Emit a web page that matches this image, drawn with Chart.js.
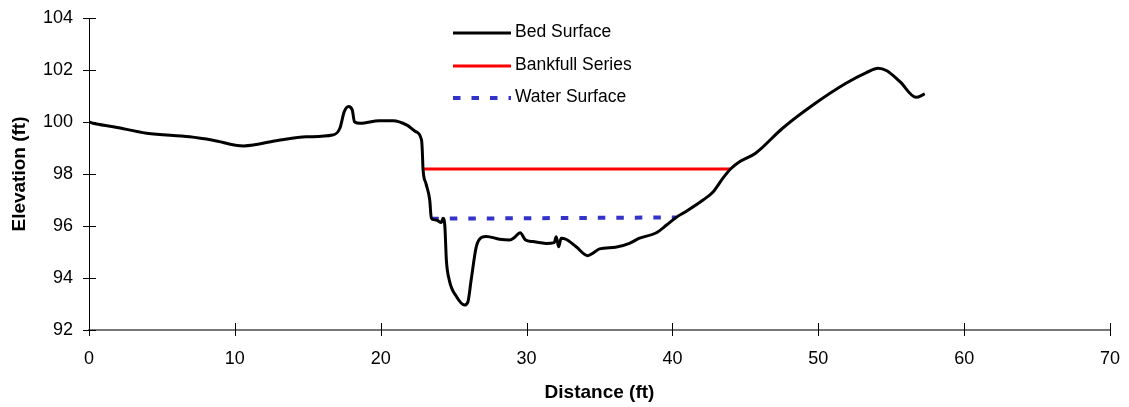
<!DOCTYPE html>
<html>
<head>
<meta charset="utf-8">
<script src="https://cdn.jsdelivr.net/npm/chart.js@4.4.1/dist/chart.umd.min.js"></script>
<style>
  html, body { margin: 0; padding: 0; background: #fff; }
  #wrap { width: 1129px; height: 407px; }
</style>
</head>
<body>
<div id="wrap"><canvas id="sectionChart" width="1129" height="407"></canvas></div>
<script>
// cross-section data
const seriesNames = ["Bed Surface", "Bankfull Series", "Water Surface"];

const bedX = [0, 0.27, 1.66, 3.95, 6.9, 8.5, 10.6, 13.1, 14.9, 16.7, 17.2, 17.5, 17.8, 18.05, 18.2, 18.6,
  19.9, 20.85, 21.8, 22.4, 22.8, 22.85, 22.9, 23.1, 23.36, 23.47, 23.8, 24.16, 24.27, 24.4, 24.5, 24.7,
  25.2, 25.75, 25.98, 26.2, 26.55, 26.9, 27.24, 28.15, 28.84, 29.17, 29.56, 29.93, 30.43, 31.35, 31.9,
  32.03, 32.2, 32.37, 32.7, 33.4, 34.2, 34.54, 35.0, 36.1, 37.05, 37.7, 38.9, 39.6, 40.25, 40.9, 42.1,
  42.8, 43.45, 44.0, 44.6, 45.7, 47.55, 49.8, 51.9, 53.3, 54.1, 54.7, 55.6, 56.7, 57.3];
const bedY = [100.0, 99.95, 99.82, 99.57, 99.43, 99.3, 99.08, 99.31, 99.43, 99.5, 99.76, 100.4, 100.6, 100.46, 100.01, 99.95,
  100.05, 100.05, 99.88, 99.63, 99.3, 98.9, 98.2, 97.64, 97.0, 96.3, 96.23, 96.13, 96.3, 95.97, 94.7, 93.92,
  93.28, 92.96, 93.09, 93.92, 95.2, 95.56, 95.6, 95.49, 95.46, 95.56, 95.74, 95.46, 95.4, 95.33, 95.36,
  95.59, 95.2, 95.53, 95.49, 95.2, 94.86, 94.95, 95.12, 95.18, 95.33, 95.52, 95.74, 96.04, 96.33, 96.55, 97.0,
  97.32, 97.83, 98.2, 98.47, 98.8, 99.76, 100.72, 101.49, 101.9, 102.07, 101.97, 101.55, 100.95, 101.08];

const bankfullX = [22.85, 44.0];
const bankfullY = [98.19, 98.19];

const waterX = [23.47, 40.25];
const waterY = [96.28, 96.33];

const xTicks = [0, 10, 20, 30, 40, 50, 60, 70];
const yTicks = [92, 94, 96, 98, 100, 102, 104];

const FONT = "'Liberation Sans', Arial, sans-serif";
const BLUE = "#3333cc";

function pts(xs, ys) {
  return xs.map((x, i) => ({ x: x, y: ys[i] }));
}

// legend drawn inside the plot, as in the original
const insideLegend = {
  id: "insideLegend",
  afterDraw(chart) {
    const ctx = chart.ctx;
    const rows = [33, 66, 98];
    ctx.save();
    chart.data.datasets.forEach((ds, i) => {
      ctx.beginPath();
      ctx.strokeStyle = ds.borderColor;
      ctx.lineWidth = ds.borderWidth;
      ctx.setLineDash(ds.borderDash || []);
      ctx.moveTo(453, rows[i]);
      ctx.lineTo(511, rows[i]);
      ctx.stroke();
      ctx.setLineDash([]);
      ctx.fillStyle = "#000";
      ctx.font = "17.5px " + FONT;
      ctx.textBaseline = "middle";
      ctx.fillText(ds.label, 515, rows[i] - 1);
    });
    ctx.restore();
  },
};

// tick marks cross the axis lines, so they are drawn here
const crossTicks = {
  id: "crossTicks",
  afterDraw(chart) {
    const ctx = chart.ctx;
    const xs = chart.scales.x;
    const ys = chart.scales.y;
    const area = chart.chartArea;
    ctx.save();
    ctx.strokeStyle = "#000";
    ctx.lineWidth = 1;
    ctx.beginPath();
    xTicks.forEach((v) => {
      const px = Math.round(xs.getPixelForValue(v)) + 0.5;
      ctx.moveTo(px, area.bottom + 6);
      ctx.lineTo(px, area.bottom - 7);
    });
    yTicks.forEach((v) => {
      const py = Math.round(ys.getPixelForValue(v)) + 0.5;
      ctx.moveTo(area.left - 6, py);
      ctx.lineTo(area.left + 7, py);
    });
    ctx.stroke();
    ctx.restore();
  },
};

new Chart(document.getElementById("sectionChart").getContext("2d"), {
  type: "line",
  data: {
    datasets: [
      {
        label: seriesNames[0],
        data: pts(bedX, bedY),
        borderColor: "#000",
        borderWidth: 3,
        pointRadius: 0,
        cubicInterpolationMode: "monotone",
      },
      {
        label: seriesNames[1],
        data: pts(bankfullX, bankfullY),
        borderColor: "#ff0000",
        borderWidth: 3,
        pointRadius: 0,
      },
      {
        label: seriesNames[2],
        data: pts(waterX, waterY),
        borderColor: BLUE,
        borderWidth: 4,
        borderDash: [7.5, 11],
        borderCapStyle: "butt",
        pointRadius: 0,
      },
    ],
  },
  options: {
    responsive: false,
    animation: false,
    layout: { padding: { top: 18, right: 19, left: 0, bottom: 0 } },
    plugins: {
      legend: { display: false },
      tooltip: { enabled: false },
    },
    scales: {
      x: {
        type: "linear",
        min: 0,
        max: 70,
        afterBuildTicks: (scale) => { scale.ticks = xTicks.map((v) => ({ value: v })); },
        afterFit: (scale) => { scale.height = 77; },
        grid: { drawOnChartArea: false, tickColor: "rgba(0,0,0,0)", tickLength: 16 },
        border: { color: "#777", width: 2 },
        ticks: { color: "#000", font: { family: FONT, size: 18 }, padding: 2 },
        title: {
          display: true,
          text: "Distance (ft)",
          color: "#000",
          font: { family: FONT, size: 19, weight: "bold" },
          padding: { top: 0, bottom: 3 },
        },
      },
      y: {
        min: 92,
        max: 104,
        afterBuildTicks: (scale) => { scale.ticks = yTicks.map((v) => ({ value: v })); },
        afterFit: (scale) => { scale.width = 89; },
        grid: { drawOnChartArea: false, tickColor: "rgba(0,0,0,0)", tickLength: 14 },
        border: { color: "#000", width: 1 },
        ticks: { color: "#000", font: { family: FONT, size: 18 }, padding: 2 },
        title: {
          display: true,
          text: "Elevation (ft)",
          color: "#000",
          font: { family: FONT, size: 19, weight: "bold" },
          padding: { top: 8, bottom: 0 },
        },
      },
    },
  },
  plugins: [insideLegend, crossTicks],
});
</script>
</body>
</html>
